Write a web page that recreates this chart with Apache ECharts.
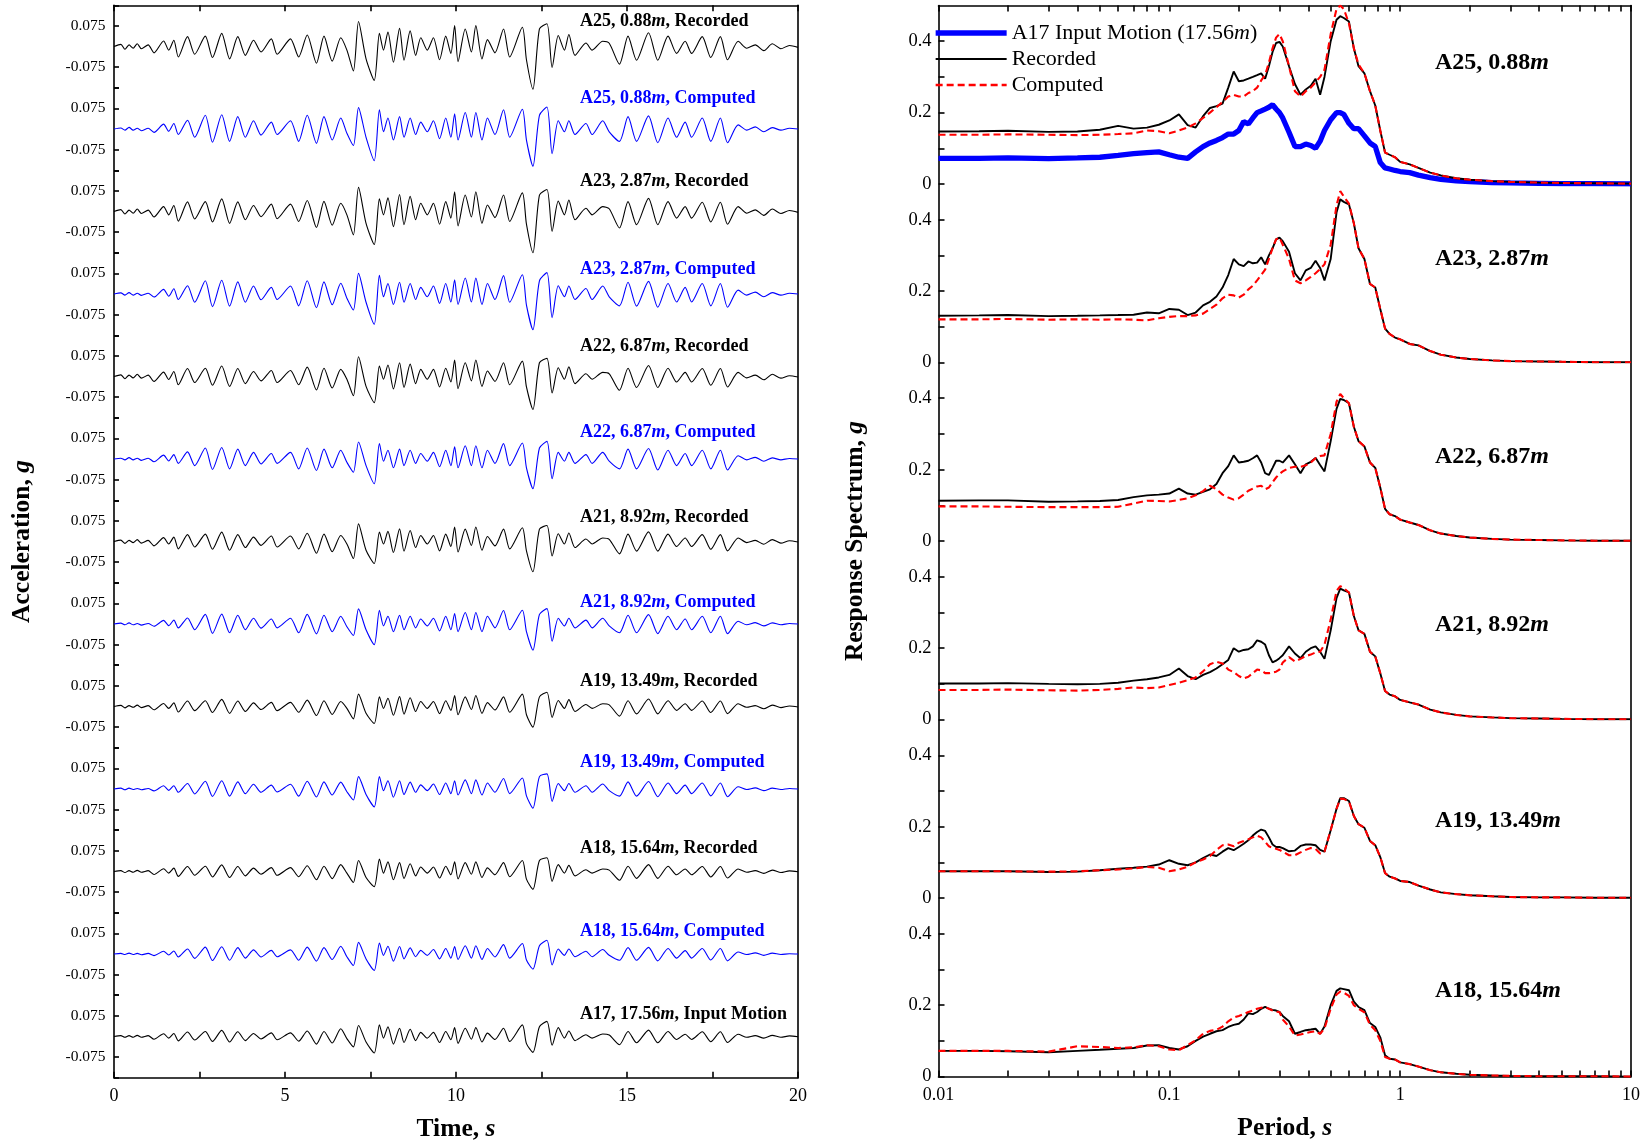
<!DOCTYPE html>
<html><head><meta charset="utf-8">
<script src="https://cdn.jsdelivr.net/npm/echarts@6/dist/echarts.min.js"></script>
<style>html,body{margin:0;padding:0;background:#fff}#c{width:1645px;height:1142px}</style>
</head><body><div id="c"></div>
<script>
// ---------- Time histories (left panel) ----------
const TIME = [0,0.2,0.32,0.44,0.56,0.68,0.8,1.0,1.17,1.45,1.6,1.75,1.88,2.15,2.36,2.67,2.88,3.15,3.38,3.62,3.84,4.08,4.3,4.6,4.77,5.16,5.4,5.65,5.92,6.14,6.38,6.63,6.81,7.0,7.15,7.37,7.61,7.76,7.88,8.01,8.17,8.35,8.48,8.66,8.82,8.97,9.16,9.34,9.52,9.7,9.85,9.96,10.06,10.27,10.45,10.58,10.76,10.92,11.14,11.39,11.57,11.94,12.06,12.25,12.44,12.66,12.81,12.99,13.17,13.3,13.48,13.8,13.98,14.29,14.48,14.78,15.03,15.28,15.63,15.9,16.2,16.45,16.7,16.89,17.2,17.45,17.73,17.94,18.25,18.5,18.75,19.0,19.25,19.5,19.75,20];

const ACC_A25_REC = [0,.008,-.01,.006,-.006,.01,-.008,.006,-.023,.02,-.013,.023,-.038,.036,-.028,.038,-.04,.048,-.045,.036,-.032,.023,-.02,.028,-.028,.028,-.038,.042,-.061,.038,-.053,.032,-.013,-.089,.091,-.045,-.123,.048,-.013,.053,-.057,.066,-.05,.057,-.032,.032,-.013,.032,-.048,.038,-.025,.076,-.055,.064,-.02,.076,-.045,.025,-.023,.064,-.038,.07,-.048,-.155,.064,.083,-.076,.04,-.013,.044,-.032,.013,-.013,.019,.012,-.064,.038,-.05,.05,-.05,.038,-.025,.019,-.025,.036,-.04,.036,-.048,.019,-.006,.006,-.015,.01,-.008,.004,-.003];
const ACC_A25_CMP = [0,.004,-.004,.006,-.004,.003,-.006,.003,-.012,.018,-.008,.02,-.02,.032,-.03,.05,-.048,.052,-.045,.045,-.03,.03,-.022,.025,-.02,.03,-.045,.05,-.052,.045,-.04,.04,-.015,-.06,.078,-.03,-.115,.07,-.01,.04,-.04,.045,-.03,.04,-.02,.025,-.01,.03,-.035,.04,-.03,.055,-.04,.06,-.03,.06,-.04,.04,-.02,.07,-.03,.072,-.04,-.135,.05,.08,-.09,.03,-.01,.03,-.02,.02,-.02,.03,-.01,-.045,.045,-.045,.048,-.05,.04,-.03,.025,-.03,.04,-.045,.04,-.05,.015,-.004,.008,-.01,.005,-.004,.003,0];
const ACC_A23_REC = [0,.007,-.009,.005,-.006,.009,-.007,.005,-.02,.018,-.012,.022,-.035,.035,-.027,.036,-.038,.046,-.043,.035,-.03,.022,-.019,.027,-.026,.027,-.036,.04,-.058,.037,-.05,.03,-.012,-.085,.088,-.043,-.12,.046,-.012,.05,-.055,.062,-.048,.055,-.03,.03,-.012,.03,-.046,.036,-.024,.072,-.052,.06,-.02,.072,-.043,.024,-.022,.06,-.036,.068,-.046,-.15,.06,.08,-.072,.038,-.012,.042,-.03,.012,-.012,.018,.01,-.06,.036,-.048,.048,-.048,.036,-.024,.018,-.024,.034,-.038,.034,-.046,.018,-.006,.006,-.014,.009,-.007,.004,-.003];
const ACC_A23_CMP = [0,.004,-.004,.005,-.004,.003,-.005,.003,-.011,.017,-.008,.019,-.02,.03,-.03,.048,-.046,.05,-.044,.044,-.03,.029,-.021,.024,-.02,.029,-.043,.048,-.05,.044,-.039,.039,-.015,-.058,.075,-.03,-.11,.068,-.01,.038,-.038,.043,-.03,.038,-.02,.024,-.01,.029,-.034,.038,-.029,.052,-.038,.058,-.029,.058,-.038,.038,-.02,.067,-.03,.07,-.04,-.13,.048,.078,-.086,.03,-.01,.029,-.02,.02,-.02,.029,-.01,-.043,.043,-.044,.046,-.048,.038,-.029,.024,-.029,.038,-.043,.038,-.048,.014,-.004,.007,-.01,.005,-.004,.003,0];
const ACC_A22_REC = [0,.006,-.008,.005,-.005,.008,-.006,.005,-.018,.016,-.011,.018,-.03,.029,-.022,.03,-.032,.038,-.036,.029,-.026,.018,-.016,.022,-.022,.022,-.03,.034,-.049,.03,-.042,.026,-.01,-.07,.072,-.036,-.095,.038,-.01,.042,-.045,.05,-.04,.045,-.026,.026,-.01,.026,-.038,.03,-.02,.06,-.044,.05,-.016,.06,-.036,.02,-.018,.05,-.03,.056,-.038,-.12,.05,.066,-.06,.032,-.01,.035,-.026,.01,-.01,.015,.01,-.05,.03,-.04,.04,-.04,.03,-.02,.015,-.02,.029,-.032,.029,-.038,.015,-.005,.005,-.012,.008,-.006,.003,-.002];
const ACC_A22_CMP = [0,.003,-.003,.005,-.003,.003,-.005,.003,-.01,.014,-.007,.016,-.016,.026,-.024,.04,-.038,.042,-.036,.036,-.024,.024,-.018,.02,-.016,.024,-.036,.04,-.042,.036,-.032,.032,-.012,-.048,.062,-.024,-.09,.056,-.008,.032,-.032,.036,-.024,.032,-.016,.02,-.008,.024,-.028,.032,-.024,.044,-.032,.048,-.024,.048,-.032,.032,-.016,.056,-.024,.058,-.032,-.108,.04,.064,-.072,.024,-.008,.024,-.016,.016,-.016,.024,-.008,-.036,.036,-.036,.038,-.04,.032,-.024,.02,-.024,.032,-.036,.032,-.04,.012,-.003,.006,-.008,.004,-.003,.002,0];
const ACC_A21_REC = [0,.005,-.007,.004,-.004,.007,-.006,.004,-.016,.014,-.009,.016,-.027,.025,-.02,.027,-.028,.034,-.032,.025,-.022,.016,-.014,.02,-.02,.02,-.027,.03,-.043,.027,-.037,.022,-.009,-.062,.064,-.032,-.08,.034,-.009,.037,-.04,.046,-.035,.04,-.022,.022,-.009,.022,-.034,.027,-.018,.053,-.038,.045,-.014,.053,-.032,.018,-.016,.045,-.027,.05,-.034,-.11,.045,.058,-.053,.028,-.009,.031,-.022,.009,-.009,.013,.008,-.045,.027,-.035,.035,-.035,.027,-.018,.013,-.018,.025,-.028,.025,-.034,.013,-.004,.004,-.01,.007,-.006,.003,-.002];
const ACC_A21_CMP = [0,.003,-.003,.004,-.003,.002,-.004,.002,-.008,.013,-.006,.014,-.014,.022,-.021,.035,-.034,.036,-.032,.032,-.021,.021,-.015,.018,-.014,.021,-.032,.035,-.036,.032,-.028,.028,-.01,-.042,.055,-.021,-.075,.05,-.007,.028,-.028,.032,-.021,.028,-.014,.018,-.007,.021,-.025,.028,-.021,.038,-.028,.042,-.021,.042,-.028,.028,-.014,.049,-.021,.05,-.028,-.095,.035,.056,-.063,.021,-.007,.021,-.014,.014,-.014,.021,-.007,-.032,.032,-.032,.034,-.035,.028,-.021,.018,-.021,.028,-.032,.028,-.035,.01,-.003,.005,-.007,.004,-.003,.002,0];
const ACC_A19_REC = [0,.004,-.005,.003,-.003,.005,-.004,.003,-.012,.011,-.007,.013,-.02,.02,-.015,.021,-.022,.026,-.025,.02,-.018,.013,-.011,.015,-.015,.015,-.021,.023,-.033,.021,-.029,.018,-.007,-.045,.045,-.025,-.062,.035,-.007,.03,-.032,.036,-.028,.032,-.018,.018,-.007,.018,-.026,.021,-.014,.04,-.03,.035,-.011,.04,-.025,.014,-.013,.035,-.021,.045,-.03,-.075,.035,.052,-.04,.022,-.007,.025,-.018,.007,-.007,.01,.006,-.035,.021,-.027,.027,-.027,.021,-.014,.01,-.014,.02,-.022,.02,-.026,.01,-.003,.003,-.008,.005,-.004,.002,-.002];
const ACC_A19_CMP = [0,.003,-.003,.003,-.002,.002,-.003,.002,-.007,.012,-.005,.012,-.012,.02,-.018,.028,-.027,.03,-.026,.026,-.017,.017,-.012,.014,-.011,.017,-.026,.028,-.029,.026,-.022,.025,-.01,-.04,.045,-.02,-.065,.045,-.006,.03,-.03,.03,-.02,.025,-.012,.015,-.006,.018,-.02,.022,-.017,.03,-.022,.033,-.017,.033,-.022,.022,-.012,.038,-.017,.04,-.025,-.07,.045,.055,-.045,.02,-.006,.02,-.012,.012,-.012,.018,-.006,-.026,.026,-.026,.027,-.028,.022,-.017,.014,-.017,.022,-.025,.022,-.028,.008,-.002,.004,-.006,.003,-.002,.002,0];
const ACC_A18_REC = [0,.003,-.004,.003,-.003,.004,-.003,.003,-.011,.01,-.006,.012,-.018,.018,-.014,.019,-.02,.024,-.022,.018,-.016,.012,-.01,.014,-.014,.014,-.019,.021,-.03,.019,-.026,.025,-.006,-.04,.04,-.022,-.055,.045,-.006,.035,-.03,.032,-.025,.028,-.016,.016,-.006,.016,-.024,.019,-.012,.035,-.027,.032,-.01,.035,-.022,.013,-.012,.032,-.019,.04,-.028,-.065,.04,.05,-.036,.025,-.006,.022,-.016,.006,-.006,.009,.005,-.032,.019,-.025,.025,-.025,.019,-.012,.009,-.012,.018,-.02,.018,-.024,.009,-.003,.003,-.007,.005,-.004,.002,-.001];
const ACC_A18_CMP = [0,.002,-.002,.003,-.002,.002,-.003,.002,-.006,.01,-.004,.011,-.011,.018,-.016,.025,-.024,.026,-.023,.023,-.015,.015,-.011,.013,-.01,.015,-.023,.025,-.026,.023,-.02,.028,-.01,-.042,.042,-.018,-.06,.04,-.005,.028,-.026,.027,-.018,.022,-.01,.013,-.005,.016,-.018,.02,-.015,.027,-.02,.03,-.015,.03,-.02,.02,-.011,.034,-.015,.038,-.022,-.055,.03,.05,-.04,.018,-.005,.018,-.01,.01,-.01,.016,-.005,-.023,.023,-.023,.024,-.025,.02,-.015,.012,-.015,.02,-.022,.02,-.025,.007,-.002,.004,-.005,.003,-.002,.001,0];
const ACC_A17_INP = [0,.003,-.003,.003,-.003,.004,-.003,.003,-.01,.01,-.006,.011,-.016,.016,-.013,.018,-.018,.022,-.02,.017,-.015,.011,-.009,.013,-.012,.013,-.017,.02,-.028,.018,-.024,.028,-.008,-.038,.04,-.02,-.06,.042,-.006,.035,-.028,.03,-.022,.026,-.015,.015,-.006,.015,-.022,.018,-.012,.032,-.025,.03,-.01,.032,-.02,.012,-.011,.03,-.018,.042,-.026,-.058,.035,.055,-.032,.032,-.006,.02,-.015,.006,-.006,.009,.005,-.03,.018,-.023,.023,-.023,.018,-.011,.008,-.011,.017,-.019,.017,-.022,.008,-.003,.003,-.006,.004,-.003,.002,-.001];

const TRACE_STATIONS = ['A25, 0.88','A25, 0.88','A23, 2.87','A23, 2.87','A22, 6.87','A22, 6.87','A21, 8.92','A21, 8.92','A19, 13.49','A19, 13.49','A18, 15.64','A18, 15.64','A17, 17.56'];
const TRACE_KINDS = ['Recorded','Computed','Recorded','Computed','Recorded','Computed','Recorded','Computed','Recorded','Computed','Recorded','Computed','Input Motion'];
const TRACE_DATA = [ACC_A25_REC,ACC_A25_CMP,ACC_A23_REC,ACC_A23_CMP,ACC_A22_REC,ACC_A22_CMP,ACC_A21_REC,ACC_A21_CMP,ACC_A19_REC,ACC_A19_CMP,ACC_A18_REC,ACC_A18_CMP,ACC_A17_INP];
const TRACE_LABEL_Y = [21,98,181,269,346,432,517,602,681,762,848,931,1014];

// ---------- Response spectra (right panel) ----------
const PERIOD = [0.01,0.015,0.02,0.03,0.04,0.05,0.06,0.07,0.08,0.09,0.1,0.11,0.12,0.13,0.14,0.15,0.16,0.17,0.18,0.19,0.2,0.21,0.22,0.23,0.24,0.25,0.26,0.27,0.28,0.29,0.3,0.31,0.33,0.35,0.37,0.39,0.41,0.43,0.45,0.47,0.5,0.53,0.55,0.57,0.6,0.63,0.66,0.7,0.74,0.78,0.82,0.86,0.9,0.95,1.0,1.1,1.2,1.35,1.5,1.75,2,2.5,3,4,5,7,10];

const SA_A17_INPUT = [.072,.072,.073,.071,.073,.075,.08,.085,.088,.09,.082,.075,.072,.09,.105,.115,.122,.13,.14,.14,.15,.175,.168,.185,.2,.205,.21,.215,.222,.21,.2,.185,.145,.105,.105,.112,.108,.10,.12,.15,.18,.2,.2,.195,.17,.155,.155,.135,.115,.105,.06,.045,.042,.038,.035,.032,.025,.018,.013,.009,.007,.004,.003,.002,.001,.001,.0005];
const SA_A25_REC = [.147,.148,.149,.146,.147,.152,.163,.155,.158,.166,.178,.195,.165,.158,.19,.213,.218,.225,.27,.315,.288,.29,.295,.30,.305,.31,.295,.33,.37,.395,.398,.385,.33,.28,.25,.265,.275,.295,.25,.30,.40,.46,.47,.465,.455,.38,.33,.31,.26,.22,.15,.088,.082,.075,.062,.055,.045,.032,.024,.016,.012,.008,.006,.004,.003,.002,.001];
const SA_A25_CMP = [.138,.138,.139,.138,.137,.138,.14,.142,.15,.148,.142,.15,.158,.17,.185,.2,.215,.23,.245,.25,.245,.245,.255,.26,.27,.29,.305,.34,.38,.41,.42,.40,.33,.26,.245,.26,.27,.285,.30,.32,.42,.49,.50,.49,.45,.38,.335,.31,.26,.22,.15,.088,.082,.075,.062,.055,.045,.032,.024,.016,.012,.008,.006,.004,.003,.002,.001];
const SA_A23_REC = [.131,.132,.133,.13,.131,.132,.133,.134,.14,.138,.15,.148,.133,.14,.16,.17,.185,.21,.245,.29,.275,.27,.283,.278,.28,.295,.275,.30,.32,.345,.35,.34,.31,.25,.23,.258,.265,.285,.265,.23,.29,.42,.457,.45,.443,.39,.32,.29,.22,.21,.15,.095,.08,.07,.065,.052,.048,.032,.022,.014,.01,.006,.004,.003,.002,.001,.001];
const SA_A23_CMP = [.121,.121,.122,.12,.121,.12,.121,.12,.118,.124,.128,.13,.13,.132,.137,.15,.162,.18,.19,.188,.182,.19,.205,.215,.23,.245,.26,.29,.32,.345,.35,.33,.29,.23,.222,.23,.24,.25,.262,.275,.33,.44,.48,.465,.445,.39,.32,.29,.22,.21,.15,.095,.08,.07,.065,.052,.048,.032,.022,.014,.01,.006,.004,.003,.002,.001,.001];
const SA_A22_REC = [.113,.114,.114,.11,.111,.112,.115,.123,.128,.13,.133,.147,.133,.13,.138,.145,.16,.19,.21,.24,.22,.222,.225,.232,.24,.22,.19,.185,.205,.225,.225,.22,.24,.215,.19,.215,.222,.233,.213,.195,.28,.37,.398,.395,.386,.32,.28,.265,.22,.205,.15,.09,.075,.07,.06,.052,.045,.03,.021,.014,.01,.006,.004,.003,.002,.001,.001];
const SA_A22_CMP = [.097,.097,.096,.095,.095,.095,.096,.105,.113,.112,.111,.115,.12,.128,.14,.155,.145,.13,.122,.116,.12,.13,.141,.147,.153,.155,.145,.15,.165,.178,.188,.195,.205,.208,.208,.212,.22,.232,.238,.24,.30,.39,.412,.40,.386,.32,.28,.265,.22,.205,.15,.09,.075,.07,.06,.052,.045,.03,.021,.014,.01,.006,.004,.003,.002,.001,.001];
const SA_A21_REC = [.101,.101,.102,.1,.099,.1,.103,.109,.113,.118,.125,.143,.122,.113,.125,.133,.143,.155,.167,.2,.19,.195,.197,.205,.222,.218,.21,.18,.16,.165,.172,.18,.205,.185,.172,.19,.2,.205,.19,.17,.25,.34,.367,.362,.356,.29,.25,.24,.19,.177,.13,.08,.07,.065,.055,.048,.042,.028,.02,.013,.009,.006,.004,.003,.002,.001,.001];
const SA_A21_CMP = [.083,.083,.084,.082,.081,.083,.086,.09,.088,.09,.097,.103,.11,.118,.135,.155,.162,.157,.14,.133,.122,.115,.12,.13,.14,.138,.13,.13,.132,.134,.14,.16,.175,.163,.17,.178,.182,.188,.19,.21,.28,.36,.374,.368,.356,.29,.25,.24,.19,.177,.13,.08,.07,.065,.055,.048,.042,.028,.02,.013,.009,.006,.004,.003,.002,.001,.001];
const SA_A19_REC = [.075,.075,.075,.073,.074,.078,.082,.085,.088,.094,.106,.096,.092,.1,.112,.122,.118,.13,.14,.134,.143,.152,.162,.175,.185,.192,.188,.17,.15,.143,.143,.14,.131,.133,.146,.15,.15,.148,.135,.13,.19,.25,.28,.28,.272,.23,.207,.197,.16,.148,.115,.07,.06,.055,.048,.045,.035,.024,.016,.011,.008,.005,.003,.002,.002,.001,.001];
const SA_A19_CMP = [.075,.075,.075,.074,.075,.078,.08,.083,.087,.085,.075,.08,.088,.1,.108,.118,.135,.148,.15,.145,.155,.16,.165,.17,.175,.17,.158,.145,.14,.138,.135,.13,.12,.12,.128,.135,.14,.138,.125,.13,.19,.25,.278,.278,.27,.23,.207,.197,.16,.148,.115,.07,.06,.055,.048,.045,.035,.024,.016,.011,.008,.005,.003,.002,.002,.001,.001];
const SA_A18_REC = [.072,.072,.071,.068,.072,.075,.078,.08,.087,.088,.08,.076,.085,.1,.112,.12,.127,.13,.139,.145,.148,.16,.177,.175,.181,.19,.195,.19,.187,.185,.181,.17,.155,.12,.125,.13,.132,.134,.12,.14,.2,.24,.247,.245,.242,.21,.195,.186,.15,.139,.11,.06,.05,.048,.04,.035,.028,.018,.012,.008,.005,.003,.002,.001,.001,.001,0];
const SA_A18_CMP = [.072,.072,.072,.07,.085,.083,.08,.082,.088,.085,.076,.074,.088,.102,.12,.128,.131,.14,.155,.165,.17,.175,.181,.185,.19,.193,.195,.19,.185,.182,.181,.16,.14,.115,.118,.122,.125,.127,.12,.135,.19,.23,.238,.235,.226,.2,.19,.18,.145,.13,.1,.055,.05,.048,.04,.035,.028,.018,.012,.008,.005,.003,.002,.001,.001,.001,0];

const SPEC_STATIONS = ['A25, 0.88','A23, 2.87','A22, 6.87','A21, 8.92','A19, 13.49','A18, 15.64'];
const SPEC_REC = [SA_A25_REC,SA_A23_REC,SA_A22_REC,SA_A21_REC,SA_A19_REC,SA_A18_REC];
const SPEC_CMP = [SA_A25_CMP,SA_A23_CMP,SA_A22_CMP,SA_A21_CMP,SA_A19_CMP,SA_A18_CMP];
const SPEC_LABEL_Y = [63,259,457,625,821,991];

const PERIOD_TICKS = [0.01,0.02,0.03,0.04,0.05,0.06,0.07,0.08,0.09,0.1,0.2,0.3,0.4,0.5,0.6,0.7,0.8,0.9,1,2,3,4,5,6,7,8,9,10];
const PERIOD_LABELS = [0.01,0.1,1,10];
const TIME_TICKS = [0,2.5,5,7.5,10,12.5,15,17.5,20];

// ---------- build ----------
const FONT = 'Liberation Serif';
const BLACK = '#000';
const BLUE = '#0000ff';
const RED = '#ff0000';
const chart = echarts.init(document.getElementById('c'));
const grid = [], xAxis = [], yAxis = [], series = [], graphic = [];
const axisLineStyle = {color: BLACK, width: 1.6};
const TITLE_FS = 25.5;
const richName = {
  b: {fontFamily: FONT, fontWeight: 'bold', fontSize: TITLE_FS, color: BLACK},
  i: {fontFamily: FONT, fontWeight: 'bold', fontStyle: 'italic', fontSize: TITLE_FS, color: BLACK}
};
const mkGrid = (left, top, width, height) => ({left, top, width, height, containLabel: false, outerBoundsMode: 'none'});

// Left frame
const LX = 114, LW = 684, LT = 5.3, LH = 1072.4;
let g = grid.length;
grid.push(mkGrid(LX, LT, LW, LH));
xAxis.push({gridIndex: g, type: 'value', min: 0, max: 20, position: 'bottom',
  axisLine: {show: true, onZero: false, lineStyle: axisLineStyle},
  axisTick: {show: true, inside: true, length: 6, customValues: TIME_TICKS, lineStyle: axisLineStyle},
  axisLabel: {customValues: [0,5,10,15,20], color: BLACK, fontFamily: FONT, fontSize: 18, margin: 10},
  splitLine: {show: false},
  name: '{b|Time, }{i|s}', nameLocation: 'middle', nameGap: 39, nameTextStyle: {rich: richName}});
xAxis.push({gridIndex: g, type: 'value', min: 0, max: 20, position: 'top',
  axisLine: {show: true, onZero: false, lineStyle: axisLineStyle},
  axisTick: {show: true, inside: true, length: 6, customValues: TIME_TICKS, lineStyle: axisLineStyle},
  axisLabel: {show: false}, splitLine: {show: false}});
yAxis.push({gridIndex: g, type: 'value', min: 0, max: 1, position: 'left',
  axisLine: {show: true, onZero: false, lineStyle: axisLineStyle}, axisTick: {show: false}, axisLabel: {show: false}, splitLine: {show: false},
  name: '{b|Acceleration, }{i|g}', nameLocation: 'middle', nameGap: 79, nameRotate: 90, nameTextStyle: {rich: richName}});
yAxis.push({gridIndex: g, type: 'value', min: 0, max: 1, position: 'right',
  axisLine: {show: true, onZero: false, lineStyle: axisLineStyle}, axisTick: {show: false}, axisLabel: {show: false}, splitLine: {show: false}});

// Bands
const BAND = LH / TRACE_DATA.length;
TRACE_DATA.forEach((vals, i) => {
  const gi = grid.length, xi = xAxis.length, yi = yAxis.length;
  grid.push(mkGrid(LX, LT + i * BAND, LW, BAND));
  xAxis.push({gridIndex: gi, type: 'value', min: 0, max: 20, show: false});
  yAxis.push({gridIndex: gi, type: 'value', min: -0.15, max: 0.15,
    axisLine: {show: false, onZero: false},
    axisTick: {show: true, inside: true, length: 5, customValues: [-0.15, -0.075, 0.075, 0.15], lineStyle: axisLineStyle},
    axisLabel: {show: true, customValues: [-0.075, 0.075], formatter: v => (v > 0 ? '0.075' : '-0.075'),
      color: BLACK, fontFamily: FONT, fontSize: 15.5, margin: 8.5},
    splitLine: {show: false}});
  const col = TRACE_KINDS[i] === 'Computed' ? BLUE : BLACK;
  series.push({type: 'line', xAxisIndex: xi, yAxisIndex: yi, symbol: 'none', smooth: 0.25, clip: false,
    silent: true, animation: false,
    lineStyle: {color: col, width: 1.1}, data: TIME.map((t, j) => [t, vals[j]])});
  graphic.push({type: 'text', x: 580, y: TRACE_LABEL_Y[i], silent: true,
    style: {text: '{b|' + TRACE_STATIONS[i] + '}{bi|m}{b|, ' + TRACE_KINDS[i] + '}', verticalAlign: 'middle',
      rich: {b: {fontFamily: FONT, fontWeight: 'bold', fontSize: 18, fill: col},
             bi: {fontFamily: FONT, fontWeight: 'bold', fontStyle: 'italic', fontSize: 18, fill: col}}}});
});

// Right frame
const RX = 938.5, RW = 692.5, RT = 5.5, RH = 1071.1;
g = grid.length;
grid.push(mkGrid(RX, RT, RW, RH));
xAxis.push({gridIndex: g, type: 'log', logBase: 10, min: 0.01, max: 10, position: 'bottom',
  axisLine: {show: true, onZero: false, lineStyle: axisLineStyle},
  axisTick: {show: true, inside: true, length: 6, customValues: PERIOD_TICKS, lineStyle: axisLineStyle},
  axisLabel: {customValues: PERIOD_LABELS, formatter: v => String(+(+v).toPrecision(2)), color: BLACK, fontFamily: FONT, fontSize: 18, margin: 10},
  splitLine: {show: false}, minorTick: {show: false},
  name: '{b|Period, }{i|s}', nameLocation: 'middle', nameGap: 39, nameTextStyle: {rich: richName}});
xAxis.push({gridIndex: g, type: 'log', logBase: 10, min: 0.01, max: 10, position: 'top',
  axisLine: {show: true, onZero: false, lineStyle: axisLineStyle},
  axisTick: {show: true, inside: true, length: 6, customValues: PERIOD_TICKS, lineStyle: axisLineStyle},
  axisLabel: {show: false}, splitLine: {show: false}});
yAxis.push({gridIndex: g, type: 'value', min: 0, max: 1, position: 'left',
  axisLine: {show: true, onZero: false, lineStyle: axisLineStyle}, axisTick: {show: false}, axisLabel: {show: false}, splitLine: {show: false},
  name: '{b|Response Spectrum, }{i|g}', nameLocation: 'middle', nameGap: 70, nameRotate: 90, nameTextStyle: {rich: richName}});
yAxis.push({gridIndex: g, type: 'value', min: 0, max: 1, position: 'right',
  axisLine: {show: true, onZero: false, lineStyle: axisLineStyle}, axisTick: {show: false}, axisLabel: {show: false}, splitLine: {show: false}});

const SUB = RH / SPEC_REC.length;
SPEC_REC.forEach((rec, k) => {
  const gi = grid.length, xi = xAxis.length, yi = yAxis.length;
  grid.push(mkGrid(RX, RT + k * SUB, RW, SUB));
  xAxis.push({gridIndex: gi, type: 'log', logBase: 10, min: 0.01, max: 10, show: false});
  yAxis.push({gridIndex: gi, type: 'value', min: 0, max: 0.5,
    axisLine: {show: false, onZero: false},
    axisTick: {show: true, inside: true, length: 6, customValues: [0, 0.1, 0.2, 0.3, 0.4], lineStyle: axisLineStyle},
    axisLabel: {show: true, customValues: [0, 0.2, 0.4], formatter: v => String(+(+v).toFixed(1)),
      color: BLACK, fontFamily: FONT, fontSize: 18.5, margin: 7},
    splitLine: {show: false}});
  if (k === 0) {
    series.push({name: 'A17 Input Motion (17.56m)', type: 'line', xAxisIndex: xi, yAxisIndex: yi, symbol: 'none',
      animation: false, lineStyle: {color: BLUE, width: 5.3}, itemStyle: {color: BLUE},
      data: PERIOD.map((p, j) => [p, SA_A17_INPUT[j]])});
  }
  series.push({name: 'Recorded', type: 'line', xAxisIndex: xi, yAxisIndex: yi, symbol: 'none', animation: false,
    lineStyle: {color: BLACK, width: 1.9}, itemStyle: {color: BLACK},
    data: PERIOD.map((p, j) => [p, rec[j]])});
  series.push({name: 'Computed', type: 'line', xAxisIndex: xi, yAxisIndex: yi, symbol: 'none', animation: false,
    lineStyle: {color: RED, width: 2.1, type: [7, 4]}, itemStyle: {color: RED},
    data: PERIOD.map((p, j) => [p, SPEC_CMP[k][j]])});
  graphic.push({type: 'text', x: 1435, y: SPEC_LABEL_Y[k], silent: true,
    style: {text: '{b|' + SPEC_STATIONS[k] + '}{bi|m}', verticalAlign: 'middle',
      rich: {b: {fontFamily: FONT, fontWeight: 'bold', fontSize: 24, fill: BLACK},
             bi: {fontFamily: FONT, fontWeight: 'bold', fontStyle: 'italic', fontSize: 24, fill: BLACK}}}});
});

chart.setOption({
  animation: false,
  backgroundColor: '#fff',
  grid, xAxis, yAxis, series, graphic,
  legend: {
    data: [
      {name: 'A17 Input Motion (17.56m)', lineStyle: {width: 5.3, color: BLUE}},
      {name: 'Recorded', lineStyle: {width: 2, color: BLACK}},
      {name: 'Computed', lineStyle: {width: 2.5, color: RED, type: [7, 4]}}
    ],
    orient: 'vertical', left: 928, top: 17, itemWidth: 71, itemHeight: 14, itemGap: 4,
    selectedMode: false,
    itemStyle: {opacity: 0, borderWidth: 0},
    formatter: n => n === 'A17 Input Motion (17.56m)' ? 'A17 Input Motion (17.56{it|m})' : n,
    textStyle: {fontFamily: FONT, fontSize: 22, color: BLACK,
      rich: {it: {fontFamily: FONT, fontStyle: 'italic', fontSize: 22, color: BLACK}}}
  }
});
</script>
</body></html>
